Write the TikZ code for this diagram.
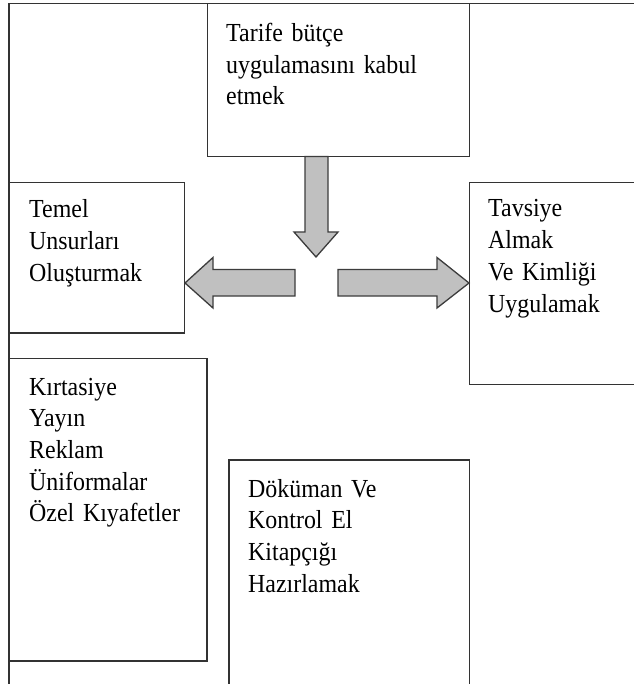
\documentclass[tikz,border=0pt]{standalone}
\usepackage{fontspec}
\setmainfont{Liberation Serif}[FakeStretch=0.92]
\definecolor{edge}{HTML}{333333}
\definecolor{arrowfill}{HTML}{C0C0C0}
\definecolor{arrowedge}{HTML}{3C3C3C}
\newcommand\boxtextfont{\fontsize{26}{31.7}\selectfont\spaceskip=5pt plus 0pt\relax}
\begin{document}
\begin{tikzpicture}[x=1pt,y=-1pt,
  box/.style={draw=edge,line width=1.6pt,fill=none},
  txt/.style={inner sep=0pt,align=left,text width=200pt,anchor=base west,
    font=\boxtextfont},
  blockarrow/.style={fill=arrowfill,draw=arrowedge,line width=1.3pt,line join=miter}]
\useasboundingbox (0,0) rectangle (633,684);
\fill[white] (0,0) rectangle (633,684);

% outer frame (open on the right and at the bottom)
\draw[box] (9,695) -- (9,3.5) -- (645,3.5);

% boxes
\draw[box] (207.5,3.5) rectangle (469.5,156.5);
\draw[box] (9,182.5) rectangle (184.5,333);
\draw[box] (645,182.5) -- (469.5,182.5) -- (469.5,384.5) -- (645,384.5);
\draw[box] (9,358.5) rectangle (207,661);
\draw[box] (229,695) -- (229,460) -- (469.5,460) -- (469.5,695);

% box texts
\node[txt] (tarife) at (226,41.5) {Tarife bütçe\\uygulamasını kabul\\etmek};
\node[txt] (temel) at (29,218) {Temel\\Unsurları\\Oluşturmak};
\node[txt,text width=140pt] (tavsiye) at (488,217) {Tavsiye\\Almak\\Ve Kimliği\\Uygulamak};
\node[txt,text width=175pt] (kirtasiye) at (29,395) {Kırtasiye\\Yayın\\Reklam\\Üniformalar\\Özel Kıyafetler};
\node[txt] (dokuman) at (248,497) {Döküman Ve\\Kontrol El\\Kitapçığı\\Hazırlamak};

% block arrows
\draw[blockarrow] (305,156.5) -- (328,156.5) -- (328,232) -- (338,232)
  -- (316,257) -- (294,232) -- (305,232) -- cycle;
\draw[blockarrow] (295,269.5) -- (213,269.5) -- (213,257.5) -- (185,283)
  -- (213,308) -- (213,296) -- (295,296) -- cycle;
\draw[blockarrow] (338,269.5) -- (437,269.5) -- (437,257.5) -- (469,283)
  -- (437,308) -- (437,296) -- (338,296) -- cycle;
\end{tikzpicture}
\end{document}
